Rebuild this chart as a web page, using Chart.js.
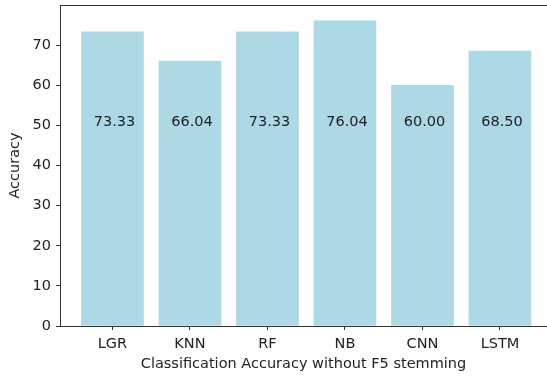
<!DOCTYPE html>
<html lang="en">
<head>
  <meta charset="UTF-8" />
  <title>Classification Accuracy without F5 stemming</title>
  <script src="https://cdn.jsdelivr.net/npm/chart.js"></script>
  <style>
    html, body { margin: 0; padding: 0; background: #fff; }
    #wrap { width: 547px; height: 377px; position: relative; }
  </style>
</head>
<body>
  <div id="wrap"><canvas id="chartAcc"></canvas></div>

  <script>
    const categorias = ["LGR", "KNN", "RF", "NB", "CNN", "LSTM"];
    const acuracia = [73.33, 66.04, 73.33, 76.04, 60.00, 68.50];
    const yTicks = [0, 10, 20, 30, 40, 50, 60, 70];
    const labelY = 50; // where matplotlib put the value labels

    const axisColor = "#333";
    const textColor = "#222";
    const fonte = { family: "DejaVu Sans", size: 14.5 };

    // top frame line (the right one is cropped off the picture)
    const frameTop = {
      id: "frameTop",
      afterDraw(chart) {
        const ctx = chart.ctx;
        const a = chart.chartArea;
        ctx.save();
        ctx.strokeStyle = axisColor;
        ctx.lineWidth = 1;
        ctx.beginPath();
        ctx.moveTo(a.left, a.top + 0.5);
        ctx.lineTo(chart.width, a.top + 0.5);
        ctx.stroke();
        ctx.restore();
      }
    };

    const valueLabels = {
      id: "valueLabels",
      afterDatasetsDraw(chart) {
        const ctx = chart.ctx;
        const meta = chart.getDatasetMeta(0);
        const y = chart.scales.y.getPixelForValue(labelY);
        ctx.save();
        ctx.font = "14.5px 'DejaVu Sans'";
        ctx.fillStyle = textColor;
        ctx.textAlign = "center";
        ctx.textBaseline = "alphabetic";
        meta.data.forEach((bar, i) => {
          ctx.fillText(acuracia[i].toFixed(2), bar.x + 2, y + 1);
        });
        ctx.restore();
      }
    };

    const chartAcc = new Chart(document.getElementById("chartAcc").getContext("2d"), {
      type: "bar",
      data: {
        datasets: [{
          data: acuracia.map((v, i) => ({ x: i, y: v })),
          backgroundColor: "#ADD8E6",
          borderWidth: 0,
          barThickness: 62
        }]
      },
      options: {
        responsive: true,
        maintainAspectRatio: false,
        animation: false,
        layout: { padding: { top: 5, left: 0, right: 0, bottom: 0 } },
        plugins: {
          legend: { display: false },
          tooltip: { enabled: false }
        },
        scales: {
          x: {
            type: "linear",
            offset: false,
            min: -0.677,
            max: 5.607,
            afterBuildTicks: (s) => { s.ticks = categorias.map((c, i) => ({ value: i })); },
            afterFit: (s) => { s.height = 51; s.paddingLeft = 0; s.paddingRight = 0; },
            ticks: {
              color: textColor,
              font: fonte,
              padding: 6,
              maxRotation: 0,
              autoSkip: false,
              callback: (v) => categorias[v] ?? ""
            },
            grid: { offset: false, drawOnChartArea: false, drawTicks: true, tickLength: 4, color: axisColor },
            border: { display: true, color: axisColor, width: 1 },
            title: {
              display: true,
              text: "Classification Accuracy without F5 stemming",
              color: textColor,
              font: fonte,
              padding: { top: 0, bottom: 4 }
            }
          },
          y: {
            min: 0,
            max: 80,
            afterBuildTicks: (s) => { s.ticks = yTicks.map(v => ({ value: v })); },
            afterFit: (s) => { s.width = 60; s.paddingTop = 0; s.paddingBottom = 0; },
            ticks: { color: textColor, font: fonte, padding: 5 },
            grid: { drawOnChartArea: false, drawTicks: true, tickLength: 4, color: axisColor },
            border: { display: true, color: axisColor, width: 1 },
            title: {
              display: true,
              text: "Accuracy",
              color: textColor,
              font: fonte,
              padding: { top: 7, bottom: 0 }
            }
          }
        }
      },
      plugins: [frameTop, valueLabels]
    });
  </script>
</body>
</html>
